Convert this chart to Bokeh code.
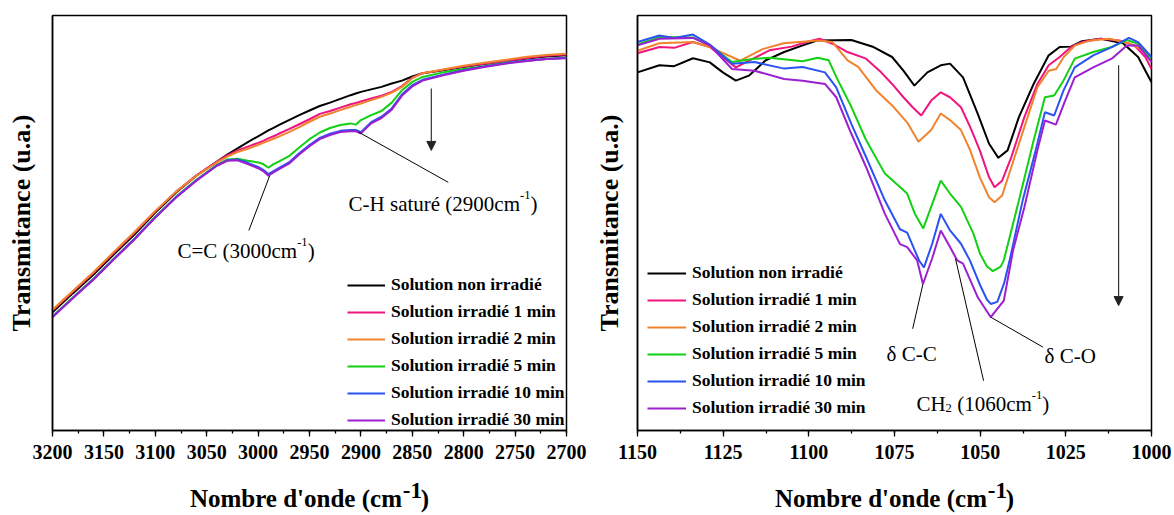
from bokeh.plotting import figure
from bokeh.models import (Range1d, SingleIntervalTicker, FixedTicker, Legend, LinearAxis,
                          LegendItem, Label, Arrow, NormalHead)
from bokeh.layouts import row
from bokeh.embed import file_html
from bokeh.resources import INLINE

# ---------------- data ----------------
series_names = ["Solution non irradié", "Solution irradié 1 min", "Solution irradié 2 min",
                "Solution irradié 5 min", "Solution irradié 10 min", "Solution irradié 30 min"]
colors = ["#000000", "#F0147E", "#F2832E", "#12D012", "#2B52F2", "#9C1FD0"]

# Left panel: 3200-2700 cm-1 (shared wavenumber grid)
wn_left = [3200, 3180, 3160, 3140, 3120, 3100, 3080, 3060, 3040, 3030, 3020, 3010, 3000,
           2995, 2990, 2985, 2980, 2970, 2960, 2950, 2940, 2930, 2920, 2910, 2905, 2900,
           2890, 2880, 2870, 2860, 2850, 2840, 2820, 2800, 2780, 2760, 2740, 2720, 2700]
left_t0 = [28.5, 33.1, 37.6, 42.5, 47.3, 52.5, 57.3, 61.4, 64.8, 66.5, 68.0, 69.5, 70.9,
           71.6, 72.3, 72.9, 73.6, 74.8, 76.0, 77.1, 78.2, 79.0, 79.9, 80.8, 81.2, 81.6,
           82.2, 82.8, 83.6, 84.3, 85.3, 86.1, 86.8, 87.6, 88.3, 88.9, 89.6, 90.1, 90.4]
left_t1 = [28.9, 33.5, 38.0, 42.9, 47.7, 52.8, 57.5, 61.5, 64.8, 66.3, 67.5, 68.4, 69.3,
           69.8, 70.4, 70.9, 71.5, 72.6, 73.8, 75.0, 76.3, 77.0, 77.8, 78.6, 78.9, 79.3,
           80.0, 80.7, 81.6, 83.0, 85.0, 86.1, 86.9, 87.7, 88.4, 89.0, 89.7, 90.3, 90.6]
left_t2 = [29.1, 33.7, 38.2, 43.1, 47.9, 52.9, 57.5, 61.4, 64.6, 66.0, 67.1, 67.9, 68.8,
           69.3, 69.8, 70.3, 70.8, 71.9, 73.1, 74.4, 75.6, 76.4, 77.2, 78.0, 78.4, 78.8,
           79.6, 80.4, 81.4, 82.8, 84.9, 86.1, 87.0, 87.9, 88.6, 89.3, 90.0, 90.5, 90.8]
left_t5 = [27.5, 32.1, 36.6, 41.5, 46.3, 51.5, 56.3, 60.4, 64.0, 65.3, 65.5, 65.0, 64.6,
           64.2, 63.3, 64.2, 64.8, 66.1, 68.2, 70.2, 71.8, 72.9, 73.6, 74.0, 73.7, 74.8,
           76.0, 77.0, 79.0, 82.0, 84.0, 85.2, 86.3, 87.1, 87.8, 88.6, 89.1, 89.5, 89.8]
left_t10 = [27.4, 32.0, 36.5, 41.4, 46.2, 51.4, 56.2, 60.3, 63.9, 65.1, 65.3, 64.5, 63.5,
            62.8, 61.8, 62.5, 63.2, 64.6, 66.8, 68.8, 70.5, 71.5, 72.2, 72.4, 72.4, 71.9,
            74.3, 75.6, 77.6, 81.0, 83.2, 84.5, 85.7, 86.8, 87.7, 88.5, 89.1, 89.5, 89.8]
left_t30 = [27.3, 31.9, 36.4, 41.3, 46.1, 51.3, 56.1, 60.2, 63.8, 65.0, 65.1, 64.2, 63.2,
            62.5, 61.4, 62.2, 62.9, 64.3, 66.5, 68.5, 70.2, 71.2, 71.9, 72.1, 72.1, 71.6,
            74.0, 75.3, 77.3, 80.7, 82.9, 84.3, 85.6, 86.7, 87.6, 88.4, 89.0, 89.5, 89.7]

# Right panel: 1150-1000 cm-1 (points read per curve)
r_wn0 = [1150, 1143.6, 1139.3, 1133.8, 1128.9, 1125.1, 1121.3, 1117.5, 1112.6, 1107.2, 1101.8,
         1097.4, 1087.6, 1081.1, 1075.7, 1072.4, 1069.2, 1065.4, 1061.5, 1058.8, 1055.0, 1050.7,
         1047.4, 1044.7, 1042.0, 1038.7, 1034.4, 1030.0, 1026.8, 1023.5, 1020.3, 1014.8, 1008.3,
         1003.9, 1000]
r_t0 = [86.3, 88.0, 87.8, 89.7, 88.7, 86.3, 84.3, 85.5, 89.2, 91.2, 92.8,
        94.0, 94.1, 92.4, 90.0, 86.7, 83.1, 86.3, 88.0, 88.4, 85.1, 76.3,
        69.1, 65.7, 67.5, 75.5, 83.5, 90.4, 92.4, 92.5, 93.8, 94.4, 93.3,
        90.0, 83.9]
r_wn1 = [1150, 1143.6, 1139.3, 1133.8, 1128.9, 1121.3, 1111.5, 1105.0, 1100.7, 1096.9, 1093.1,
         1088.7, 1083.3, 1078.9, 1075.7, 1072.4, 1069.7, 1067.2, 1064.3, 1061.5, 1058.8, 1055.6,
         1052.9, 1050.1, 1047.4, 1045.8, 1043.6, 1040.9, 1037.1, 1033.3, 1030.0, 1026.8, 1023.5,
         1020.3, 1014.8, 1009.4, 1005.0, 1001.8, 1000]
r_t1 = [90.9, 92.4, 92.2, 93.6, 92.4, 87.5, 91.6, 92.5, 93.6, 94.4, 93.2,
        91.2, 89.6, 86.3, 83.5, 80.3, 77.9, 75.9, 79.5, 81.5, 80.3, 77.9,
        73.1, 67.5, 61.0, 58.6, 60.2, 65.9, 75.5, 83.5, 88.0, 90.0, 92.4,
        93.6, 94.4, 94.0, 92.8, 90.0, 87.1]
r_wn2 = [1150, 1143.6, 1133.8, 1128.9, 1120.0, 1113.5, 1107.3, 1097.4, 1093.1, 1088.7, 1085.6,
         1080.4, 1075.3, 1071.1, 1068.0, 1064.3, 1061.5, 1058.8, 1055.6, 1052.9, 1050.1, 1047.4,
         1045.8, 1043.6, 1040.9, 1037.1, 1033.3, 1030.0, 1027.8, 1025.6, 1022.3, 1017.8, 1012.3,
         1006.7, 1002.3, 1000]
r_t2 = [91.5, 93.3, 93.6, 92.4, 89.1, 91.9, 93.3, 94.0, 93.6, 89.2, 87.6,
        82.0, 78.0, 74.0, 69.6, 72.4, 76.4, 74.8, 72.4, 67.5, 61.0, 56.2,
        55.0, 56.6, 63.5, 73.1, 82.7, 86.7, 87.1, 90.0, 92.8, 94.0, 94.4,
        93.3, 91.6, 88.8]
r_wn5 = [1150, 1143.6, 1133.8, 1128.9, 1122.4, 1115.9, 1111.5, 1101.8, 1097.4, 1094.2, 1092.0,
         1087.6, 1083.3, 1077.8, 1071.3, 1069.1, 1066.6, 1064.3, 1061.5, 1058.8, 1055.6, 1052.0,
         1050.0, 1048.0, 1046.3, 1044.0, 1043.1, 1038.7, 1034.4, 1031.1, 1028.4, 1025.7, 1022.4,
         1017.0, 1011.6, 1007.2, 1003.9, 1000]
r_t5 = [93.0, 94.8, 94.7, 92.8, 88.8, 89.6, 89.8, 89.0, 89.8, 89.2, 85.2,
        78.0, 70.0, 61.9, 57.1, 52.3, 48.7, 53.9, 60.2, 57.1, 53.9, 47.5,
        42.5, 39.5, 38.4, 39.5, 41.0, 55.4, 69.9, 80.3, 80.7, 84.3, 89.6,
        91.2, 92.4, 94.1, 93.2, 89.6]
r_wn10 = [1150, 1143.6, 1139.3, 1133.8, 1128.9, 1122.4, 1115.9, 1107.2, 1101.8, 1095.3, 1092.0,
          1087.6, 1083.3, 1077.8, 1073.4, 1071.3, 1067.8, 1066.4, 1064.0, 1061.5, 1058.8, 1055.6,
          1053.0, 1050.0, 1048.0, 1046.9, 1045.0, 1043.0, 1041.4, 1037.6, 1033.8, 1031.1, 1028.4,
          1025.7, 1022.4, 1017.0, 1011.6, 1006.6, 1003.9, 1000]
r_t10 = [93.6, 95.2, 94.6, 95.4, 93.0, 88.4, 88.8, 87.2, 87.6, 86.3, 82.7,
         73.9, 65.9, 55.4, 48.5, 47.7, 40.9, 39.3, 45.0, 52.2, 48.2, 45.0,
         41.0, 35.0, 31.5, 30.5, 31.0, 35.5, 41.0, 55.4, 67.5, 76.7, 75.9,
         81.9, 87.5, 90.4, 92.4, 94.6, 93.6, 90.0]
r_wn30 = [1150, 1143.6, 1133.8, 1128.9, 1122.4, 1115.9, 1107.2, 1101.8, 1095.3, 1092.0, 1087.6,
          1083.3, 1077.8, 1073.4, 1071.3, 1068.4, 1066.7, 1064.0, 1061.5, 1058.8, 1056.7, 1055.0,
          1050.7, 1046.9, 1043.1, 1040.4, 1037.1, 1033.3, 1031.1, 1027.9, 1025.2, 1022.4, 1017.0,
          1011.6, 1007.2, 1003.9, 1000]
r_t30 = [92.8, 94.4, 94.6, 92.8, 87.1, 86.7, 84.7, 84.3, 83.5, 80.3, 71.5,
         63.5, 52.2, 44.9, 44.2, 41.0, 35.3, 41.5, 48.2, 44.2, 41.0, 40.2,
         32.1, 27.3, 31.3, 43.4, 53.8, 67.5, 74.7, 73.7, 79.5, 85.1, 87.5,
         89.6, 92.8, 92.8, 88.8]

left_series = [(wn_left, left_t0), (wn_left, left_t1), (wn_left, left_t2),
               (wn_left, left_t5), (wn_left, left_t10), (wn_left, left_t30)]
right_series = [(r_wn0, r_t0), (r_wn1, r_t1), (r_wn2, r_t2),
                (r_wn5, r_t5), (r_wn10, r_t10), (r_wn30, r_t30)]

NB = "\u00a0"
x_title = "Nombre d'onde (cm" + NB * 3 + ")"
x_title_sup = "-1"
y_title = "Transmitance (u.a.)"

# annotation anchors (wavenumber, transmittance)
left_lines = [((2988.7, 61.4), (3009.0, 48.2)), ((2902.2, 71.9), (2815.0, 59.8))]
left_arrow = ((2831.5, 82.4), (2831.5, 67.5))
left_texts = [((3078.5, 45.0), [("C=C" + NB + "(3000cm", "n"), ("-1", "sup"), (")", "n")]),
              ((2912.0, 56.2), [("C-H" + NB + "saturé" + NB + "(2900cm", "n"), ("-1", "sup"), (")", "n")])]
right_lines = [((1066.7, 35.3), (1069.7, 24.5)), ((1057.2, 41.4), (1049.0, 12.0)),
               ((1046.9, 27.3), (1031.7, 20.1))]
right_arrow = ((1009.6, 88.0), (1009.6, 30.1))
right_texts = [((1077.3, 20.1), [("δ" + NB + "C-C", "n")]),
               ((1068.6, 8.0), [("CH", "n"), ("2", "sub"), (NB + "(1060cm", "n"), ("-1", "sup"), (")", "n")]),
               ((1031.2, 19.7), [("δ" + NB + "C-O", "n")])]

# ---------------- helpers ----------------
FONT = "Liberation Serif"
W_REG = {'C': .667, '-': .333, 'H': .722, ' ': .25, NB: .25, 's': .389, 'a': .444, 't': .278,
         'u': .5, 'r': .333, 'é': .444, '(': .333, ')': .333, 'c': .444, 'm': .778, '=': .564,
         'δ': .5, 'O': .722}


def tw(s, size):
    return sum(W_REG.get(ch, 0.5) for ch in s) * size


def rich(p, x, y, parts, size=21):
    xo = 0.0
    base = -0.33 * size
    for txt, kind in parts:
        if kind == "sup":
            fs, yo = size * 0.6, base + 0.42 * size
        elif kind == "sub":
            fs, yo = size * 0.6, base - 0.18 * size
        else:
            fs, yo = size, base
        p.add_layout(Label(x=x, y=y, x_offset=xo, y_offset=yo, text=txt, text_font=FONT,
                           text_font_size=f"{fs:.1f}px", text_align="left",
                           text_baseline="alphabetic", text_color="black"))
        xo += tw(txt, fs)


def make_fig(xr, interval, bl, br, stand, sup_x):
    p = figure(frame_width=514, frame_height=415, min_border_left=bl, min_border_right=br,
               min_border_top=15, min_border_bottom=85,
               x_range=Range1d(*xr), y_range=Range1d(0, 100),
               output_backend="svg", toolbar_location=None)
    p.xgrid.visible = False
    p.ygrid.visible = False
    p.outline_line_color = "black"
    p.outline_line_width = 1.5
    p.background_fill_color = "white"
    p.border_fill_color = "white"
    xa = p.xaxis[0]
    xa.ticker = SingleIntervalTicker(interval=interval, num_minor_ticks=2)
    xa.major_tick_out = 6
    xa.major_tick_in = 0
    xa.minor_tick_out = 3
    xa.minor_tick_in = 0
    xa.axis_line_width = 1.5
    xa.major_tick_line_width = 1.3
    xa.minor_tick_line_width = 1.3
    xa.major_label_standoff = 8
    xa.major_label_text_font = FONT
    xa.major_label_text_font_style = "bold"
    xa.major_label_text_font_size = "20px"
    xa.major_label_text_color = "black"
    # second (invisible) axis carrying the x title and its superscript
    ex = LinearAxis(ticker=FixedTicker(ticks=[sup_x]),
                    major_label_overrides={sup_x: x_title_sup},
                    axis_line_color=None, major_tick_line_color=None,
                    minor_tick_line_color=None, major_tick_out=0, minor_tick_out=0,
                    major_tick_in=0, minor_tick_in=0,
                    major_label_standoff=21, major_label_text_font=FONT,
                    major_label_text_font_style="bold", major_label_text_font_size="23px",
                    major_label_text_color="black",
                    axis_label=x_title, axis_label_standoff=-16,
                    axis_label_text_font=FONT, axis_label_text_font_style="bold",
                    axis_label_text_font_size="25px", axis_label_text_color="black")
    p.add_layout(ex, "below")
    ya = p.yaxis[0]
    ya.ticker = FixedTicker(ticks=[])
    ya.major_tick_out = 0
    ya.minor_tick_out = 0
    ya.axis_line_width = 1.5
    ya.axis_label = y_title
    ya.axis_label_text_font = FONT
    ya.axis_label_text_font_style = "bold"
    ya.axis_label_text_font_size = "26px"
    ya.axis_label_text_color = "black"
    ya.axis_label_standoff = stand
    return p


def build(xr, interval, bl, br, stand, sup_x, series, loc, gw, lines, arrow, texts):
    p = make_fig(xr, interval, bl, br, stand, sup_x)
    items = []
    for (wn, t), name, c in zip(series, series_names, colors):
        r = p.line(wn, t, line_color=c, line_width=2)
        items.append(LegendItem(label=name, renderers=[r]))
    leg = Legend(items=items, location=loc, orientation="vertical", padding=0, margin=0,
                 spacing=6, glyph_width=gw, glyph_height=20, label_height=20,
                 label_standoff=6, label_text_font=FONT, label_text_font_style="bold",
                 label_text_font_size="17.5px", label_text_color="black",
                 border_line_color=None, background_fill_alpha=0)
    p.add_layout(leg, "center")
    for (a, b) in lines:
        p.segment(x0=[a[0]], y0=[a[1]], x1=[b[0]], y1=[b[1]], line_color="black", line_width=1)
    (a, b) = arrow
    p.add_layout(Arrow(end=NormalHead(size=9, fill_color="#222222", line_color="#222222"),
                       x_start=a[0], y_start=a[1], x_end=b[0], y_end=b[1],
                       line_color="#333333", line_width=1.2))
    for (pos, parts) in texts:
        rich(p, pos[0], pos[1], parts)
    return p


p1 = build((3200, 2700), 50, 52, 22, 17, 2850, left_series, (295, 0), 38,
           left_lines, left_arrow, left_texts)
p2 = build((1150, 1000), 25, 49, 22, 14, 1045, right_series, (10, 12), 39,
           right_lines, right_arrow, right_texts)

layout = row(p1, p2)
open("out.html", "w").write(file_html(layout, INLINE))
